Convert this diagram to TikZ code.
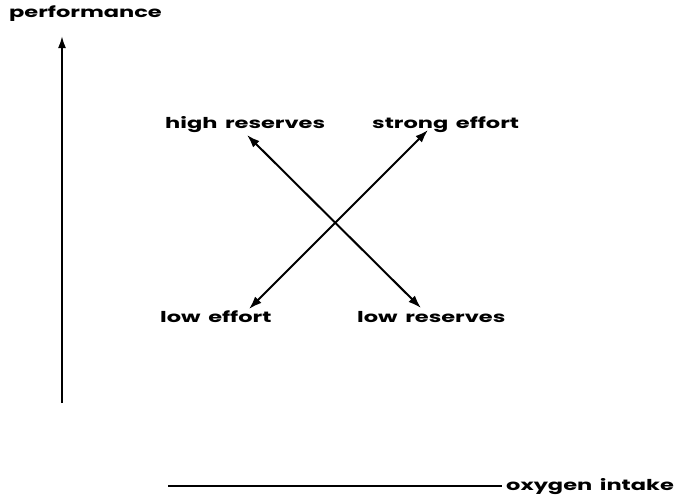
\documentclass[tikz,border=0pt]{standalone}
\usepackage{fontspec}
\setmainfont[FakeStretch=1.5,WordSpace=1.6]{Poppins}
\usetikzlibrary{arrows.meta}
\begin{document}
\begin{tikzpicture}[x=1pt,y=-1pt,
  lbl/.style={font=\fontsize{15}{15}\selectfont\bfseries, inner sep=0pt, anchor=base west},
  ax/.style={line width=2pt, -{Latex[length=12pt,width=8pt]}},
  dbl/.style={line width=2pt, {Latex[length=13pt,width=9pt]}-{Latex[length=13pt,width=9pt]}}]
\useasboundingbox (0,0) rectangle (687,496);
\node[lbl] (perf) at (9,17) {performance};
\coordinate (ybot) at (62,403);
\coordinate (ytop) at (62,36);
\draw[ax] (ybot) -- (ytop);
\node[lbl] (hr) at (165,128) {high reserves};
\node[lbl] (se) at (372,128) {strong effort};
\node[lbl] (le) at (160,322) {low effort};
\node[lbl] (lr) at (357,322) {low reserves};
\coordinate (hrt) at (247,135);
\coordinate (lrt) at (421,308);
\coordinate (set) at (428,130);
\coordinate (let) at (249,309);
\draw[dbl] (hrt) -- (lrt);
\draw[dbl] (let) -- (set);
\coordinate (xl) at (168,486);
\coordinate (xr) at (502,486);
\draw[line width=1.6pt] (xl) -- (xr);
\node[lbl] (oi) at (506,490) {oxygen intake};
\end{tikzpicture}
\end{document}
